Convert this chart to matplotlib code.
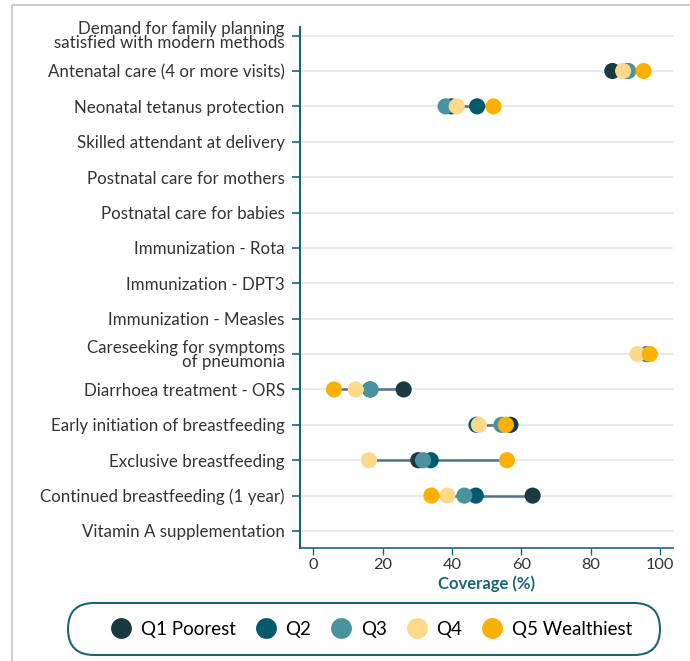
import numpy as np
import matplotlib
matplotlib.use("Agg")
import matplotlib.pyplot as plt
import matplotlib.transforms as mtransforms
from matplotlib.lines import Line2D
from matplotlib.patches import Rectangle, FancyBboxPatch

plt.rcParams["font.family"] = ["Lato", "DejaVu Sans"]

# ── data ─────────────────────────────────────────────────────────────────────
indicators = [
    "Demand for family planning\nsatisfied with modern methods",
    "Antenatal care (4 or more visits)",
    "Neonatal tetanus protection",
    "Skilled attendant at delivery",
    "Postnatal care for mothers",
    "Postnatal care for babies",
    "Immunization - Rota",
    "Immunization - DPT3",
    "Immunization - Measles",
    "Careseeking for symptoms\nof pneumonia",
    "Diarrhoea treatment - ORS",
    "Early initiation of breastfeeding",
    "Exclusive breastfeeding",
    "Continued breastfeeding (1 year)",
    "Vitamin A supplementation",
]
nan = np.nan
q1 = [nan, 86.3, 39.9, nan, nan, nan, nan, nan, nan, 96.5, 26.1, 56.9, 30.3, 63.3, nan]
q2 = [nan, 90.2, 47.3, nan, nan, nan, nan, nan, nan, 96.4, 16.4, 47.1, 33.9, 46.9, nan]
q3 = [nan, 90.9, 38.2, nan, nan, nan, nan, nan, nan, 96.0, 16.6, 54.3, 31.7, 43.6, nan]
q4 = [nan, 89.4, 41.4, nan, nan, nan, nan, nan, nan, 93.6, 12.3, 47.8, 16.1, 38.7, nan]
q5 = [nan, 95.3, 52.0, nan, nan, nan, nan, nan, nan, 97.1, 6.0, 55.6, 55.9, 34.1, nan]

quintiles = ["Q1 Poorest", "Q2", "Q3", "Q4", "Q5 Wealthiest"]
colors = ["#183a40", "#005a6b", "#4a939e", "#fdd98a", "#fcb000"]
TEAL = "#1b6674"

series = np.array([q1, q2, q3, q4, q5])

# ── figure ───────────────────────────────────────────────────────────────────
fig = plt.figure(figsize=(6.9, 6.61), dpi=100)
ax = fig.add_axes([0.4348, 0.171, 0.5406, 0.788])

# outer grey frame (top + left)
fig.patches.append(Rectangle((12 / 690, -0.05), 1.1, 1 - 5 / 661 + 0.05,
                             transform=fig.transFigure, fill=False,
                             edgecolor="#c4c4c4", lw=1.2))

y = np.arange(len(indicators))
for yi in y:
    ax.axhline(yi, color="#e4eaee", lw=1.5, zorder=0)

# range lines
for i in y:
    vals = series[:, i]
    if np.all(np.isnan(vals)):
        continue
    ax.plot([np.nanmin(vals), np.nanmax(vals)], [i, i],
            color="#54728a", lw=1.8, zorder=1)

for k in range(5):
    ax.scatter(series[k], y, s=135, color=colors[k], zorder=2 + k,
               edgecolors="none")

ax.set_ylim(14.48, -0.24)
ax.set_xlim(-3.8, 103.8)
ax.set_yticks(y)
ax.set_yticklabels(indicators, fontsize=12.2, color="#333333", linespacing=0.85)
ax.set_xticks([0, 20, 40, 60, 80, 100])
ax.tick_params(axis="x", labelsize=11.8, labelcolor="#333333", color=TEAL,
               length=5, width=1, pad=2)
ax.tick_params(axis="y", color=TEAL, length=6, width=1.2, pad=5)
for s in ["top", "right"]:
    ax.spines[s].set_visible(False)
ax.spines["left"].set_color(TEAL)
ax.spines["left"].set_linewidth(1.5)
ax.spines["bottom"].set_color(TEAL)
ax.spines["bottom"].set_linewidth(1.2)
ax.set_xlabel("Coverage (%)", fontsize=12, fontweight="bold", color=TEAL,
              labelpad=3)

# legend: rounded box drawn in pixel space, entries laid out by legend
fig.patches.append(FancyBboxPatch((68, 6), 592, 52,
                                  boxstyle="round,pad=0,rounding_size=26",
                                  transform=mtransforms.IdentityTransform(),
                                  facecolor="white", edgecolor=TEAL, lw=1.5))
handles = [Line2D([], [], marker="o", ls="none", ms=15, color=c,
                  markeredgewidth=0) for c in colors]
leg = fig.legend(handles, quintiles, loc="center", ncol=5,
                 bbox_to_anchor=(371 / 690, 1 - 629 / 661),
                 fontsize=13.5, frameon=False, handletextpad=0.45,
                 columnspacing=1.0, handlelength=1.2)

fig.savefig("out.png", dpi=100)
